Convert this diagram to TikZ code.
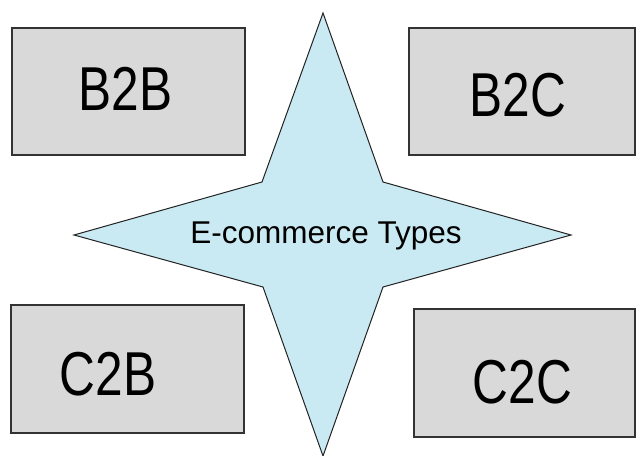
\documentclass[tikz,border=0pt]{standalone}
\usepackage{fontspec}
\setmainfont{Liberation Sans}
\definecolor{boxfill}{HTML}{D9D9D9}
\definecolor{boxline}{HTML}{333333}
\definecolor{starfill}{HTML}{CAEAF3}
\definecolor{starline}{HTML}{222222}
\tikzset{
  typebox/.style={draw=boxline, line width=1.2pt, fill=boxfill, rectangle, inner sep=0pt},
  typelabel/.style={anchor=base, inner sep=0pt, font=\fontsize{62}{62}\selectfont},
  starlabel/.style={anchor=base, inner sep=0pt, font=\fontsize{31.5}{32}\selectfont},
  starshape/.style={draw=starline, line width=1pt, fill=starfill, line join=miter}
}
\begin{document}
\begin{tikzpicture}[x=1pt, y=-1pt]
\useasboundingbox (0,0) rectangle (636,455);
\fill[white] (0,0) rectangle (636,455);

% four category boxes
\node[typebox, minimum width=233pt, minimum height=127pt] (b2b) at (128.5,91.5) {};
\node[typebox, minimum width=226pt, minimum height=127pt] (b2c) at (522,91.5) {};
\node[typebox, minimum width=233pt, minimum height=128pt] (c2b) at (127.5,369) {};
\node[typebox, minimum width=221pt, minimum height=128pt] (c2c) at (524.5,373) {};

% box captions, slightly condensed
\node[typelabel] (b2bt) at (125.5,110) {\scalebox{0.8}[1]{B2B}};
\node[typelabel] (b2ct) at (517.7,116.7) {\scalebox{0.8}[1]{B2C}};
\node[typelabel] (c2bt) at (108,395) {\scalebox{0.8}[1]{C2B}};
\node[typelabel] (c2ct) at (522.5,403) {\scalebox{0.8}[1]{C2C}};

% four-pointed star in the middle
\draw[starshape] (323,13) -- (383,182) -- (571,235) -- (383,287)
  -- (323,456) -- (263,287) -- (74,235) -- (262,182) -- cycle;
\node[starlabel] (center) at (326,243) {E-commerce Types};
\end{tikzpicture}
\end{document}
